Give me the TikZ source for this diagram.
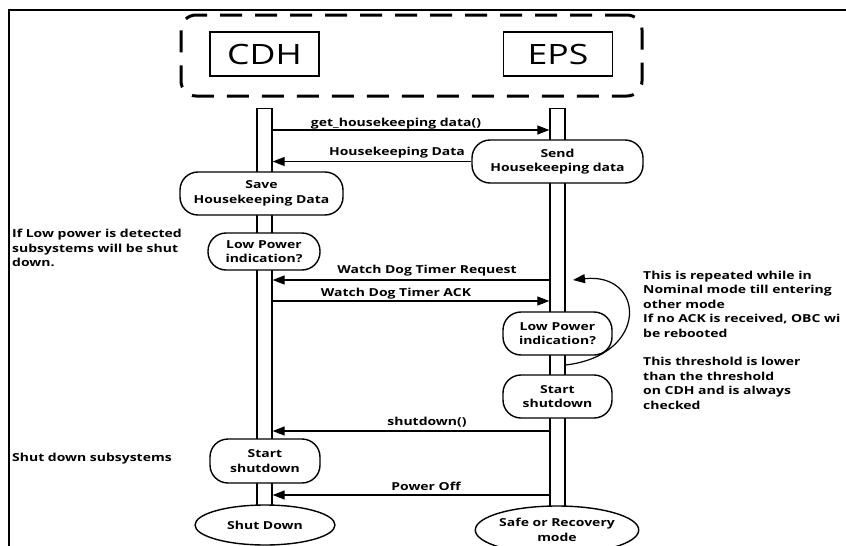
\documentclass[tikz,border=0pt]{standalone}
\usepackage{fontspec}
\setmainfont[FakeStretch=1.27]{Open Sans}
\usetikzlibrary{arrows.meta,shapes.geometric}
\begin{document}
\begin{tikzpicture}[x=1pt,y=-1pt,
  lblfont/.style={font=\fontsize{11}{14.4}\selectfont\bfseries},
  lbl/.style={lblfont, inner sep=0pt},
  act/.style={draw, line width=1.4pt, fill=white, rounded corners=18pt, align=center, lblfont, inner sep=0pt},
  endst/.style={ellipse, draw, line width=1.4pt, fill=white, align=center, lblfont, inner sep=0pt},
  life/.style={draw, line width=1.3pt, fill=white, minimum width=15pt, minimum height=400pt, inner sep=0pt, anchor=north},
  msg/.style={line width=1.2pt, -{Triangle[length=12pt,width=9pt]}},
  head/.style={draw, line width=1.3pt, minimum width=109pt, minimum height=44pt, inner sep=0pt, font=\fontsize{28}{30}\selectfont},
  grp/.style={draw, line width=3pt, dash pattern=on 22pt off 13pt, rounded corners=15pt, minimum width=461pt, minimum height=81pt, inner sep=0pt}
]
\useasboundingbox (0,0) rectangle (846,546);
% frame
\draw[line width=1.6pt] (9,546) -- (9,10) -- (846,10);
% group and heads
\node[grp] (group) at (411.5,55.5) {};
\node[head] (cdh) at (264.5,54) {CDH};
\node[head] (eps) at (558,54) {EPS};
% lifelines
\node[life] (cdhL) at (264.5,108) {};
\node[life] (epsL) at (557.5,108) {};
% activities
\node[act, minimum width=171pt, minimum height=43pt] (send) at (557.5,161.5) {Send\\Housekeeping data};
\node[act, minimum width=163pt, minimum height=43pt] (save) at (261.5,193.5) {Save\\Housekeeping Data};
\node[act, minimum width=112pt, minimum height=37pt] (lowC) at (264,251.5) {Low Power\\indication?};
\node[act, minimum width=109pt, minimum height=43pt] (lowE) at (557.5,333.5) {Low Power\\indication?};
\node[act, minimum width=109pt, minimum height=43pt] (startE) at (557.5,396.5) {Start\\shutdown};
\node[act, minimum width=110pt, minimum height=44pt] (startC) at (265,461) {Start\\shutdown};
\node[endst, minimum width=140pt, minimum height=40pt] (shutD) at (265,525) {Shut Down};
\node[endst, minimum width=141pt, minimum height=48pt] (safe) at (557,530) {Safe or Recovery\\mode};
% messages
\draw[msg] (cdhL.east |- 0,130) -- (epsL.west |- 0,130);
\node[lbl] (m1) at (396,124) {get\_housekeeping data()};
\draw[msg] (send.west) -- (cdhL.east |- send.west);
\node[lbl] (m2) at (397,153) {Housekeeping Data};
\draw[msg] (epsL.west |- 0,280) -- (cdhL.east |- 0,280);
\node[lbl] (m3) at (427,271) {Watch Dog Timer Request};
\draw[msg] (cdhL.east |- 0,301) -- (epsL.west |- 0,301);
\node[lbl] (m4) at (396,294) {Watch Dog Timer ACK};
\draw[msg] (epsL.west |- 0,431) -- (cdhL.east |- 0,431);
\node[lbl] (m5) at (427,422) {shutdown()};
\draw[msg] (epsL.west |- 0,495) -- (cdhL.east |- 0,495);
\node[lbl] (m6) at (426,486) {Power Off};
% loop
\coordinate (loopEnd) at (573,280);
\draw[msg] (epsL.east |- 0,365) .. controls (650,355) and (645,272) .. (loopEnd);
% notes
\node[lbl, align=left, anchor=north west] (note1) at (12,229) {If Low power is detected\\subsystems will be shut\\down.};
\node[lbl, anchor=west] (note3) at (12,459) {Shut down subsystems};
\node[lbl, align=left, anchor=north west] (note2) at (643,271) {This is repeated while in\\Nominal mode till entering\\other mode\\If no ACK is received, OBC wi\\be rebooted\\[14.4pt]This threshold is lower\\than the threshold\\on CDH and is always\\checked};
\end{tikzpicture}
\end{document}
